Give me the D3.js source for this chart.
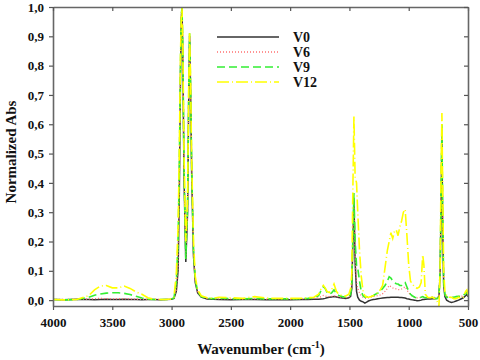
<!DOCTYPE html>
<html>
<head>
<meta charset="utf-8">
<script src="https://cdn.jsdelivr.net/npm/d3@7"></script>
<style>
body { margin: 0; background: #fff; }
svg { font-family: "Liberation Serif", "Times New Roman", serif; font-weight: bold; }
</style>
</head>
<body>
<svg id="chart" width="480" height="360"></svg>
<script>
// wavenumber grid (cm-1), shared by all spectra
var wn = [4000,3900,3800,3700,3650,3600,3550,3500,3450,3400,3350,3300,3250,3200,3150,3100,3050,3000,
	2980,2960,2945,2935,2925,2918,2912,2905,2895,2880,2865,2855,2848,2840,2830,2815,2800,2780,2750,
	2700,2650,2600,2500,2400,2300,2200,2100,2000,1900,1850,1800,
	1760,1740,1720,1705,1690,1670,1650,1630,1610,1590,1560,1530,1505,1490,
	1480,1472,1462,1452,1440,1430,1415,1400,1385,1370,1355,1340,1320,1300,1280,1260,1240,1220,
	1200,1180,1165,1150,1135,1120,1105,1090,1075,1060,1045,1030,1015,1000,985,970,950,930,910,895,882,872,860,
	840,820,800,780,760,745,735,727,720,714,705,695,680,660,640,620,600,580,560,540,520,510,500];

var v0 = [0.002,0.001,0.003,0.002,0.001,0.002,0.003,0.002,0.002,0.003,0.002,0.002,0.001,0.002,0.002,0.001,0.002,0.003,
	0.006,0.03,0.1,0.35,0.75,0.96,1.0,0.82,0.42,0.13,0.3,0.7,0.9,0.72,0.42,0.15,0.06,0.025,0.01,
	0.004,0.003,0.002,0.001,0.002,0.002,0.001,0.002,0.001,0.002,0.002,0.003,
	0.003,0.004,0.005,0.006,0.008,0.01,0.011,0.012,0.011,0.009,0.007,0.006,0.008,0.013,
	0.04,0.18,0.34,0.13,0.03,0.01,0.0,-0.004,-0.006,-0.01,-0.007,-0.003,0.0,0.002,0.003,0.005,0.006,0.007,
	0.008,0.009,0.009,0.01,0.01,0.01,0.01,0.01,0.009,0.009,0.008,0.007,0.005,0.004,0.002,0.001,0.0,-0.002,-0.001,0.0,0.002,0.002,0.003,
	0.004,0.004,0.005,0.005,0.006,0.012,0.09,0.32,0.56,0.26,0.05,0.012,0.0,-0.005,-0.008,-0.006,-0.003,0.0,0.004,0.008,0.015,0.02,0.012];

var v6 = [0.003,0.002,0.003,0.004,0.005,0.006,0.005,0.004,0.005,0.004,0.004,0.003,0.003,0.002,0.003,0.002,0.002,0.003,
	0.007,0.035,0.11,0.37,0.77,0.97,1.0,0.83,0.43,0.14,0.31,0.71,0.9,0.73,0.43,0.16,0.065,0.028,0.012,
	0.006,0.005,0.004,0.004,0.003,0.004,0.003,0.004,0.003,0.004,0.005,0.006,
	0.008,0.012,0.016,0.014,0.012,0.012,0.013,0.015,0.013,0.011,0.009,0.008,0.01,0.016,
	0.045,0.19,0.35,0.15,0.06,0.04,0.025,0.015,0.01,0.006,0.006,0.008,0.01,0.012,0.014,0.016,0.018,0.022,
	0.03,0.04,0.05,0.046,0.042,0.04,0.038,0.036,0.036,0.038,0.042,0.045,0.035,0.025,0.018,0.014,0.01,0.008,0.008,0.01,0.012,0.011,0.009,
	0.008,0.009,0.01,0.009,0.008,0.014,0.09,0.33,0.58,0.28,0.06,0.018,0.012,0.01,0.008,0.01,0.012,0.014,0.012,0.015,0.022,0.026,0.016];

var v9 = [0.002,0.001,0.002,0.01,0.017,0.021,0.024,0.025,0.025,0.023,0.019,0.013,0.007,0.003,0.002,0.002,0.002,0.003,
	0.008,0.06,0.2,0.45,0.8,0.97,1.0,0.85,0.45,0.14,0.32,0.72,0.91,0.74,0.44,0.17,0.07,0.03,0.012,
	0.006,0.005,0.007,0.005,0.004,0.006,0.004,0.005,0.004,0.005,0.006,0.008,
	0.015,0.032,0.046,0.04,0.028,0.02,0.025,0.035,0.022,0.016,0.012,0.01,0.012,0.02,
	0.05,0.2,0.365,0.2,0.12,0.11,0.065,0.03,0.015,0.01,0.012,0.01,0.012,0.015,0.02,0.024,0.03,0.04,
	0.05,0.065,0.08,0.075,0.066,0.06,0.056,0.055,0.05,0.05,0.058,0.06,0.045,0.03,0.02,0.015,0.01,0.008,0.008,0.01,0.012,0.01,0.008,
	0.008,0.01,0.01,0.006,0.005,0.012,0.1,0.36,0.6,0.3,0.06,0.02,0.01,0.008,0.009,0.01,0.012,0.013,0.012,0.016,0.024,0.028,0.017];

var v12 = [0.002,0.001,0.002,0.015,0.035,0.048,0.05,0.042,0.042,0.048,0.04,0.028,0.02,0.008,0.003,0.002,0.002,0.004,
	0.01,0.09,0.25,0.5,0.83,0.97,1.0,0.87,0.5,0.2,0.35,0.74,0.91,0.76,0.47,0.2,0.08,0.035,0.015,
	0.008,0.006,0.01,0.008,0.006,0.012,0.007,0.006,0.006,0.007,0.008,0.01,
	0.02,0.038,0.05,0.042,0.03,0.026,0.035,0.055,0.03,0.02,0.015,0.014,0.02,0.04,
	0.09,0.35,0.626,0.42,0.4,0.3,0.17,0.08,0.03,0.015,0.01,0.01,0.012,0.015,0.02,0.026,0.035,0.05,
	0.11,0.17,0.2,0.23,0.21,0.235,0.24,0.22,0.25,0.27,0.3,0.31,0.22,0.12,0.065,0.055,0.045,0.04,0.045,0.06,0.155,0.12,0.02,
	0.01,0.008,0.01,0.005,-0.005,-0.02,0.1,0.45,0.638,0.4,0.1,0.03,0.015,0.01,0.01,0.005,0.005,0.01,0.006,0.01,0.03,0.035,0.02];

var seriesNames = ["V0", "V6", "V9", "V12"];
var xTicks = [4000, 3500, 3000, 2500, 2000, 1500, 1000, 500];
var yTicks = [0, 0.1, 0.2, 0.3, 0.4, 0.5, 0.6, 0.7, 0.8, 0.9, 1.0];

var styles = {
	"V0":  {color: "#333333", dash: null,        width: 1.5},
	"V6":  {color: "#ff7070", dash: "1,2",       width: 1.3},
	"V9":  {color: "#33ee33", dash: "8,4",       width: 1.6},
	"V12": {color: "#ffff00", dash: "12,3,1,3",  width: 1.6}
};

var series = [
	{name: "V0", values: v0},
	{name: "V6", values: v6},
	{name: "V9", values: v9},
	{name: "V12", values: v12}
];

var svg = d3.select("#chart");
// plot box (window.top is reserved, so no "top" here)
var plotL = 53, plotR = 468, plotT = 7, plotB = 306;

var x = d3.scaleLinear().domain([4000, 500]).range([plotL, plotR]);
var y = d3.scaleLinear().domain([-0.02, 1.0]).range([plotB, plotT]);

var fmtY = function(d) { return d.toFixed(1).replace(".", ","); };

svg.append("defs").append("clipPath").attr("id", "plotClip")
	.append("rect").attr("x", plotL).attr("y", plotT).attr("width", plotR - plotL).attr("height", plotB - plotT);

// spectra
var line = d3.line()
	.x(function(d, i) { return x(wn[i]); })
	.y(function(d) { return y(d); });

svg.append("g").attr("clip-path", "url(#plotClip)")
	.selectAll(".spec").data(series).enter().append("path")
	.attr("class", "spec")
	.attr("fill", "none")
	.attr("stroke", function(d) { return styles[d.name].color; })
	.attr("stroke-width", function(d) { return styles[d.name].width; })
	.attr("stroke-dasharray", function(d) { return styles[d.name].dash; })
	.attr("d", function(d) { return line(d.values); });

// axes (ticks out on bottom/left, in on top/right)
var gx = svg.append("g").attr("transform", "translate(0," + plotB + ")")
	.call(d3.axisBottom(x).tickValues(xTicks).tickSize(4).tickSizeOuter(0).tickPadding(8).tickFormat(d3.format("d")));
var gy = svg.append("g").attr("transform", "translate(" + plotL + ",0)")
	.call(d3.axisLeft(y).tickValues(yTicks).tickSize(4).tickSizeOuter(0).tickPadding(5).tickFormat(fmtY));
var gt = svg.append("g").attr("transform", "translate(0," + plotT + ")")
	.call(d3.axisTop(x).tickValues(xTicks).tickSize(-4).tickSizeOuter(0).tickFormat(""));
var gr = svg.append("g").attr("transform", "translate(" + plotR + ",0)")
	.call(d3.axisRight(y).tickValues(yTicks).tickSize(-4).tickSizeOuter(0).tickFormat(""));

[gx, gy, gt, gr].forEach(function(g) {
	g.select(".domain").attr("stroke", "#666").attr("stroke-width", 1.6);
	g.selectAll(".tick line").attr("stroke", "#555").attr("stroke-width", 1.2);
	g.selectAll("text").attr("font-family", "Liberation Serif, serif").attr("font-weight", "bold")
		.attr("font-size", 13).attr("fill", "#111");
});

// axis titles
var xt = svg.append("text")
	.attr("x", 261).attr("y", 354)
	.attr("text-anchor", "middle")
	.attr("font-size", 15)
	.attr("fill", "#111");
xt.append("tspan").text("Wavenumber (cm");
xt.append("tspan").attr("dy", -6).attr("font-size", 10).text("-1");
xt.append("tspan").attr("dy", 6).text(")");

svg.append("text")
	.attr("transform", "translate(16,152) rotate(-90)")
	.attr("text-anchor", "middle")
	.attr("font-size", 15)
	.attr("fill", "#111")
	.text("Normalized Abs");

// legend
var leg = svg.selectAll(".leg").data(seriesNames).enter().append("g")
	.attr("class", "leg")
	.attr("transform", function(d, i) { return "translate(217," + (37 + i * 15) + ")"; });
leg.append("line")
	.attr("x1", 0).attr("x2", 62).attr("y1", 0).attr("y2", 0)
	.attr("stroke", function(d) { return styles[d].color; })
	.attr("stroke-width", function(d) { return styles[d].width; })
	.attr("stroke-dasharray", function(d) { return styles[d].dash; });
leg.append("text")
	.attr("x", 76).attr("y", 5)
	.attr("font-size", 14)
	.attr("fill", "#111")
	.text(function(d) { return d; });
</script>
</body>
</html>
